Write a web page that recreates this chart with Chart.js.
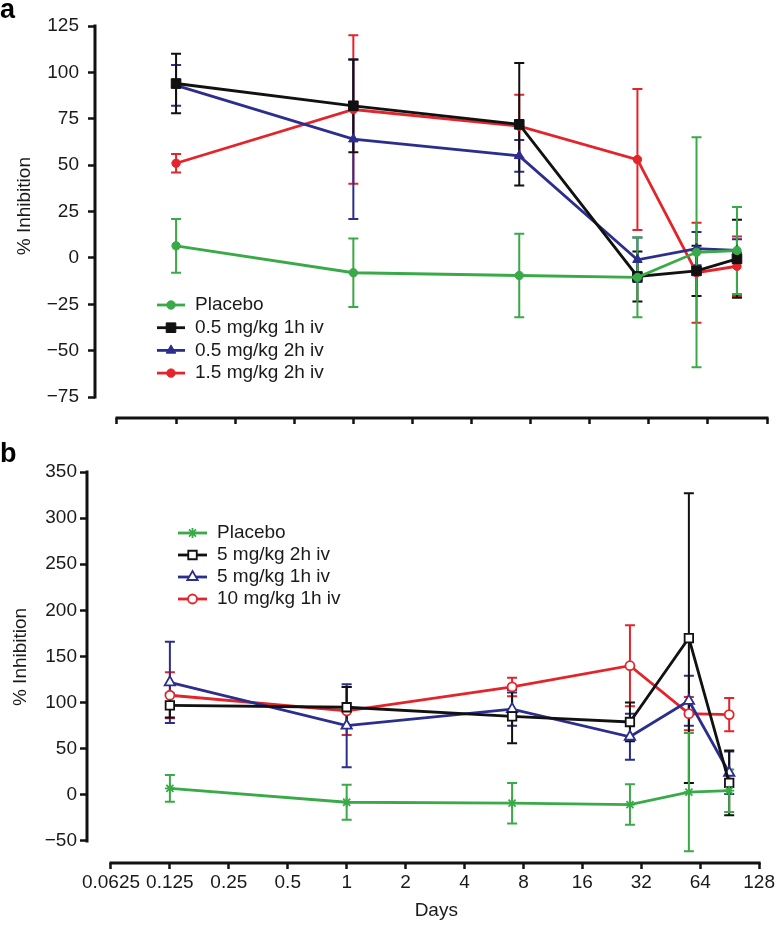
<!DOCTYPE html>
<html>
<head>
<meta charset="utf-8">
<script src="https://cdn.jsdelivr.net/npm/chart.js@4.4.0/dist/chart.umd.min.js"></script>
<style>
  html, body { margin: 0; padding: 0; background: #fff; }
  #wrap { position: relative; width: 777px; height: 929px; }
  canvas { position: absolute; left: 0; }
  #chartA { top: 0; }
  #chartB { top: 440px; }
</style>
</head>
<body>
<div id="wrap">
  <canvas id="chartA" width="777" height="440"></canvas>
  <canvas id="chartB" width="777" height="489"></canvas>
</div>
<script>
// sampling days (shared by both panels)
const days = [0.125, 1, 7, 28, 56, 90];
const xTicks = [0.0625, 0.125, 0.25, 0.5, 1, 2, 4, 8, 16, 32, 64, 128];

// panel a
const labelsA = ['Placebo', '0.5 mg/kg 1h iv', '0.5 mg/kg 2h iv', '1.5 mg/kg 2h iv'];
const placeboA = [6.5, -8, -9.5, -10.5, 3, 4];
const placeboAErr = [14.5, 18.5, 22.5, 21.5, 62, 23.5];
const dose05_1h = [94, 82, 72, -10, -7, -0.5];
const dose05_1hErr = [16, 25, 33, 13.5, 13.5, 21];
const dose05_2h = [93, 64, 55, -1, 5, 4];
const dose05_2hErr = [11, 43, 8.5, 12, 9, 6];
const dose15_2h = [51, 80, 71, 53, -8, -4.5];
const dose15_2hErr = [5, 40, 17, 38, 27, 16];
const yTicksA = [-75, -50, -25, 0, 25, 50, 75, 100, 125];

// panel b
const labelsB = ['Placebo', '5 mg/kg 2h iv', '5 mg/kg 1h iv', '10 mg/kg 1h iv'];
const placeboB = [7, -8, -9, -10.5, 3, 4.5];
const placeboBErr = [14.5, 19, 22, 22, 64, 23];
const dose5_2h = [97, 95, 85, 79, 170, 13];
const dose5_2hErr = [13, 22, 29, 21, 157, 35];
const dose5_1h = [122, 75, 93, 63, 102, 24];
const dose5_1hErr = [44, 45, 18, 25, 27, 23];
const dose10_1h = [108, 91, 117, 140, 88, 87];
const dose10_1hErr = [25, 26, 10, 44, 18, 18];
const yTicksB = [-50, 0, 50, 100, 150, 200, 250, 300, 350];

const GREEN = '#3aa948';
const BLACK = '#111111';
const BLUE = '#2b2e8c';
const RED = '#e3242b';
const FONT = '"Liberation Sans", Arial, Helvetica, sans-serif';

Chart.defaults.font.family = FONT;
Chart.defaults.font.size = 19;
Chart.defaults.color = '#1a1a1a';

function pts(ys) {
    return days.map((d, i) => ({ x: d, y: ys[i] }));
}

function series(label, ys, errs, color, style, radius, fill) {
    return {
        label: label,
        data: pts(ys),
        errors: errs,
        borderColor: color,
        backgroundColor: color,
        borderWidth: 2.8,
        pointStyle: style,
        pointRadius: radius,
        pointBackgroundColor: fill ? color : '#ffffff',
        pointBorderColor: color,
        pointBorderWidth: fill ? 1 : 1.8,
        tension: 0
    };
}

// error bars drawn from the errors arrays through the chart scales
const errorBars = {
    id: 'errorBars',
    beforeDatasetsDraw(chart, args, opts) {
        const ctx = chart.ctx;
        const xs = chart.scales.x, ys = chart.scales.y;
        ctx.save();
        ctx.lineWidth = opts.width;
        for (let i = chart.data.datasets.length - 1; i >= 0; i--) {
            const ds = chart.data.datasets[i];
            ctx.strokeStyle = ds.borderColor;
            ds.data.forEach((p, j) => {
                const e = ds.errors[j];
                const x = xs.getPixelForValue(p.x);
                const top = ys.getPixelForValue(p.y + e);
                const bot = ys.getPixelForValue(p.y - e);
                ctx.beginPath();
                ctx.moveTo(x, top); ctx.lineTo(x, bot);
                ctx.moveTo(x - opts.cap, top); ctx.lineTo(x + opts.cap, top);
                ctx.moveTo(x - opts.cap, bot); ctx.lineTo(x + opts.cap, bot);
                ctx.stroke();
            });
        }
        ctx.restore();
    }
};

// axis lines that stop at the first and last tick (offset axes)
const offsetAxes = {
    id: 'offsetAxes',
    beforeDatasetsDraw(chart) {
        const ctx = chart.ctx;
        const xs = chart.scales.x, ys = chart.scales.y;
        const area = chart.chartArea;
        const yt = ys.ticks, xt = xs.ticks;
        ctx.save();
        ctx.strokeStyle = '#111';
        ctx.lineWidth = 3;
        ctx.lineCap = 'square';
        ctx.beginPath();
        ctx.moveTo(area.left, ys.getPixelForValue(yt[yt.length - 1].value));
        ctx.lineTo(area.left, ys.getPixelForValue(yt[0].value));
        ctx.moveTo(xs.getPixelForValue(xt[0].value), area.bottom);
        ctx.lineTo(xs.getPixelForValue(xt[xt.length - 1].value), area.bottom);
        ctx.stroke();
        ctx.restore();
    }
};

// legend inside the plot and the panel letter
const panelLegend = {
    id: 'panelLegend',
    afterDraw(chart, args, opts) {
        const ctx = chart.ctx;
        ctx.save();
        ctx.font = '19px ' + FONT;
        ctx.textBaseline = 'middle';
        chart.data.datasets.forEach((ds, i) => {
            const y = opts.top + i * opts.step;
            const cx = opts.left + opts.lineLen / 2;
            ctx.strokeStyle = ds.borderColor;
            ctx.lineWidth = ds.borderWidth;
            ctx.beginPath();
            ctx.moveTo(opts.left, y);
            ctx.lineTo(opts.left + opts.lineLen, y);
            ctx.stroke();
            ctx.fillStyle = ds.pointBackgroundColor;
            ctx.strokeStyle = ds.pointBorderColor;
            ctx.lineWidth = ds.pointBorderWidth;
            Chart.helpers.drawPoint(ctx, {
                pointStyle: ds.pointStyle, radius: ds.pointRadius,
                rotation: 0, borderWidth: ds.pointBorderWidth
            }, cx, y);
            ctx.fillStyle = '#1a1a1a';
            ctx.fillText(ds.label, opts.left + opts.lineLen + opts.gap, y);
        });
        ctx.font = 'bold 27px ' + FONT;
        ctx.textBaseline = 'alphabetic';
        ctx.fillStyle = '#000';
        ctx.fillText(opts.letter, 0, opts.letterBase);
        ctx.restore();
    }
};

function minusSign(v) {
    return String(v).replace('-', '\u2212');
}

function makePanel(id, datasets, p) {
    return new Chart(document.getElementById(id), {
        type: 'line',
        data: { datasets: datasets },
        plugins: [errorBars, offsetAxes, panelLegend],
        options: {
            responsive: false,
            animation: false,
            events: [],
            layout: { padding: { top: p.padTop, right: p.padRight, left: 0, bottom: 0 } },
            scales: {
                x: {
                    type: 'logarithmic',
                    min: p.xMin,
                    max: 128,
                    afterBuildTicks: (s) => { s.ticks = xTicks.map(v => ({ value: v })); },
                    afterFit: (s) => { s.height = p.xHeight; },
                    border: { display: false },
                    grid: { drawOnChartArea: false, drawTicks: true, tickLength: 6, tickWidth: 2.5, tickColor: '#111' },
                    ticks: {
                        display: p.showX,
                        autoSkip: false,
                        maxRotation: 0,
                        padding: 2,
                        color: '#1a1a1a',
                        callback: (v) => String(v)
                    },
                    title: {
                        display: p.showX,
                        text: ' '.repeat(5) + 'Days',
                        padding: { top: 0, bottom: 7 },
                        color: '#1a1a1a'
                    }
                },
                y: {
                    min: p.yMin,
                    max: p.yMax,
                    afterBuildTicks: (s) => { s.ticks = p.yTicks.map(v => ({ value: v })); },
                    afterFit: (s) => { s.width = p.yWidth; },
                    border: { display: false },
                    grid: { drawOnChartArea: false, drawTicks: true, tickLength: 7, tickWidth: 2.5, tickColor: '#111' },
                    ticks: { padding: p.yPad, color: '#1a1a1a', callback: (v) => minusSign(v) },
                    title: {
                        display: true,
                        text: ' '.repeat(p.titleShift) + '% Inhibition',
                        padding: { top: p.titleX, bottom: 0 },
                        color: '#1a1a1a'
                    }
                }
            },
            plugins: {
                legend: { display: false },
                tooltip: { enabled: false },
                errorBars: { width: 2, cap: 5 },
                panelLegend: p.legend
            }
        }
    });
}

makePanel('chartA', [
    series(labelsA[0], placeboA, placeboAErr, GREEN, 'circle', 4.2, true),
    series(labelsA[1], dose05_1h, dose05_1hErr, BLACK, 'rect', 6.8, true),
    series(labelsA[2], dose05_2h, dose05_2hErr, BLUE, 'triangle', 5.5, true),
    series(labelsA[3], dose15_2h, dose15_2hErr, RED, 'circle', 4.2, true)
], {
    padTop: 26, padRight: 10, xMin: 0.0483, xHeight: 22, showX: false,
    yMin: -86.3, yMax: 125, yTicks: yTicksA, yWidth: 95, yPad: 9,
    titleX: 13, titleShift: 6,
    legend: { left: 157, lineLen: 28, gap: 10, top: 305, step: 22.7, letter: 'a', letterBase: 18 }
});

makePanel('chartB', [
    series(labelsB[0], placeboB, placeboBErr, GREEN, 'star', 5, false),
    series(labelsB[1], dose5_2h, dose5_2hErr, BLACK, 'rect', 6, false),
    series(labelsB[2], dose5_1h, dose5_1hErr, BLUE, 'triangle', 6, false),
    series(labelsB[3], dose10_1h, dose10_1hErr, RED, 'circle', 4.5, false)
], {
    padTop: 32, padRight: 17, xMin: 0.04715, xHeight: 66, showX: true,
    yMin: -73.85, yMax: 350, yTicks: yTicksB, yWidth: 87, yPad: 3,
    titleX: 9, titleShift: 4,
    legend: { left: 178, lineLen: 29, gap: 10, top: 93, step: 22, letter: 'b', letterBase: 22 }
});
</script>
</body>
</html>
